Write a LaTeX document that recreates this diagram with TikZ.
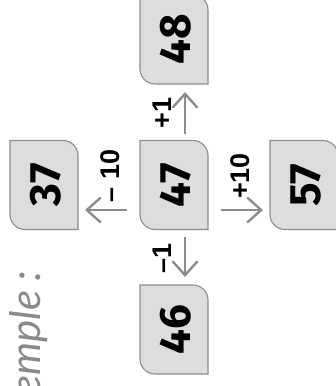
\documentclass[tikz,border=0pt]{standalone}
\usepackage{fontspec}
\usepackage{graphicx}
\setmainfont{Liberation Sans}
\newfontfamily\digitfont{Fira Sans}
\newfontfamily\exfont{Lato}
\usetikzlibrary{arrows.meta}
\definecolor{boxfill}{HTML}{DCDDDF}
\definecolor{boxline}{HTML}{8E8E8E}
\definecolor{arrowgray}{HTML}{8C8C8C}
\definecolor{exgray}{HTML}{8A8A8A}
\tikzset{
  numbox/.style={minimum width=68pt, minimum height=89pt, inner sep=0pt, outer sep=0pt},
  boxshape/.style={fill=boxfill, draw=boxline, line width=1.1pt},
  conn/.style={draw=arrowgray, line width=2.4pt, -{Straight Barb[length=14pt,width=25pt,line width=2.4pt]}},
  lbl/.style={rotate=90, inner sep=0pt}
}
\newcommand{\shapebox}[1]{%
  \path[boxshape] (#1.north west) -- ([xshift=-15pt]#1.north east)
    arc[start angle=90, end angle=0, radius=15pt] -- (#1.south east)
    -- ([xshift=15pt]#1.south west)
    arc[start angle=270, end angle=180, radius=15pt] -- cycle;}
\newcommand{\numtext}[1]{\rotatebox{90}{\fontsize{44}{44}\selectfont\digitfont\bfseries #1}}
\newcommand{\lbltext}[1]{\fontsize{27}{27}\selectfont\bfseries #1}
\begin{document}
\begin{tikzpicture}[x=1pt,y=1pt]
\useasboundingbox (0,0) rectangle (336,-386);
\clip (0,0) rectangle (336,-386);
% box placement nodes
\node[numbox] (n47) at (174,-185) {};
\node[numbox] (n48) at (174,-39.5) {};
\node[numbox] (n37) at (44,-185) {};
\node[numbox] (n57) at (304,-185) {};
\node[numbox] (n46) at (174,-329.5) {};
\foreach \b in {n47,n48,n37,n57,n46} {\shapebox{\b}}
\node (t47) at ([xshift=2pt]n47.center) {\numtext{47}};
\node (t48) at ([xshift=2pt]n48.center) {\numtext{48}};
\node (t37) at ([xshift=2pt]n37.center) {\numtext{37}};
\node (t57) at ([xshift=2pt]n57.center) {\numtext{57}};
\node (t46) at ([xshift=2pt]n46.center) {\numtext{46}};
% connectors
\draw[conn, shorten <=7pt, shorten >=8pt] ([xshift=11pt]n47.north) -- ([xshift=11pt]n48.south);
\draw[conn, shorten <=7pt, shorten >=8pt] ([xshift=11pt]n47.south) -- ([xshift=11pt]n46.north);
\draw[conn, shorten <=13pt, shorten >=7pt] ([yshift=-25pt]n47.west) -- ([yshift=-25pt]n37.east);
\draw[conn, shorten <=13pt, shorten >=7pt] ([yshift=-25pt]n47.east) -- ([yshift=-25pt]n57.west);
% labels
\node[lbl] (lp1) at (162,-113) {\lbltext{+1}};
\node[lbl] (lm1) at (162,-258) {\lbltext{–1}};
\node[lbl] (lm10) at (110,-176) {\lbltext{– 10}};
\node[lbl] (lp10) at (240,-176) {\lbltext{+10}};
% caption
\node[rotate=90, anchor=base west, inner sep=0pt, text=exgray,
  font=\fontsize{42}{42}\selectfont\exfont\itshape] (ex) at (40,-396) {emple :};
\end{tikzpicture}
\end{document}
